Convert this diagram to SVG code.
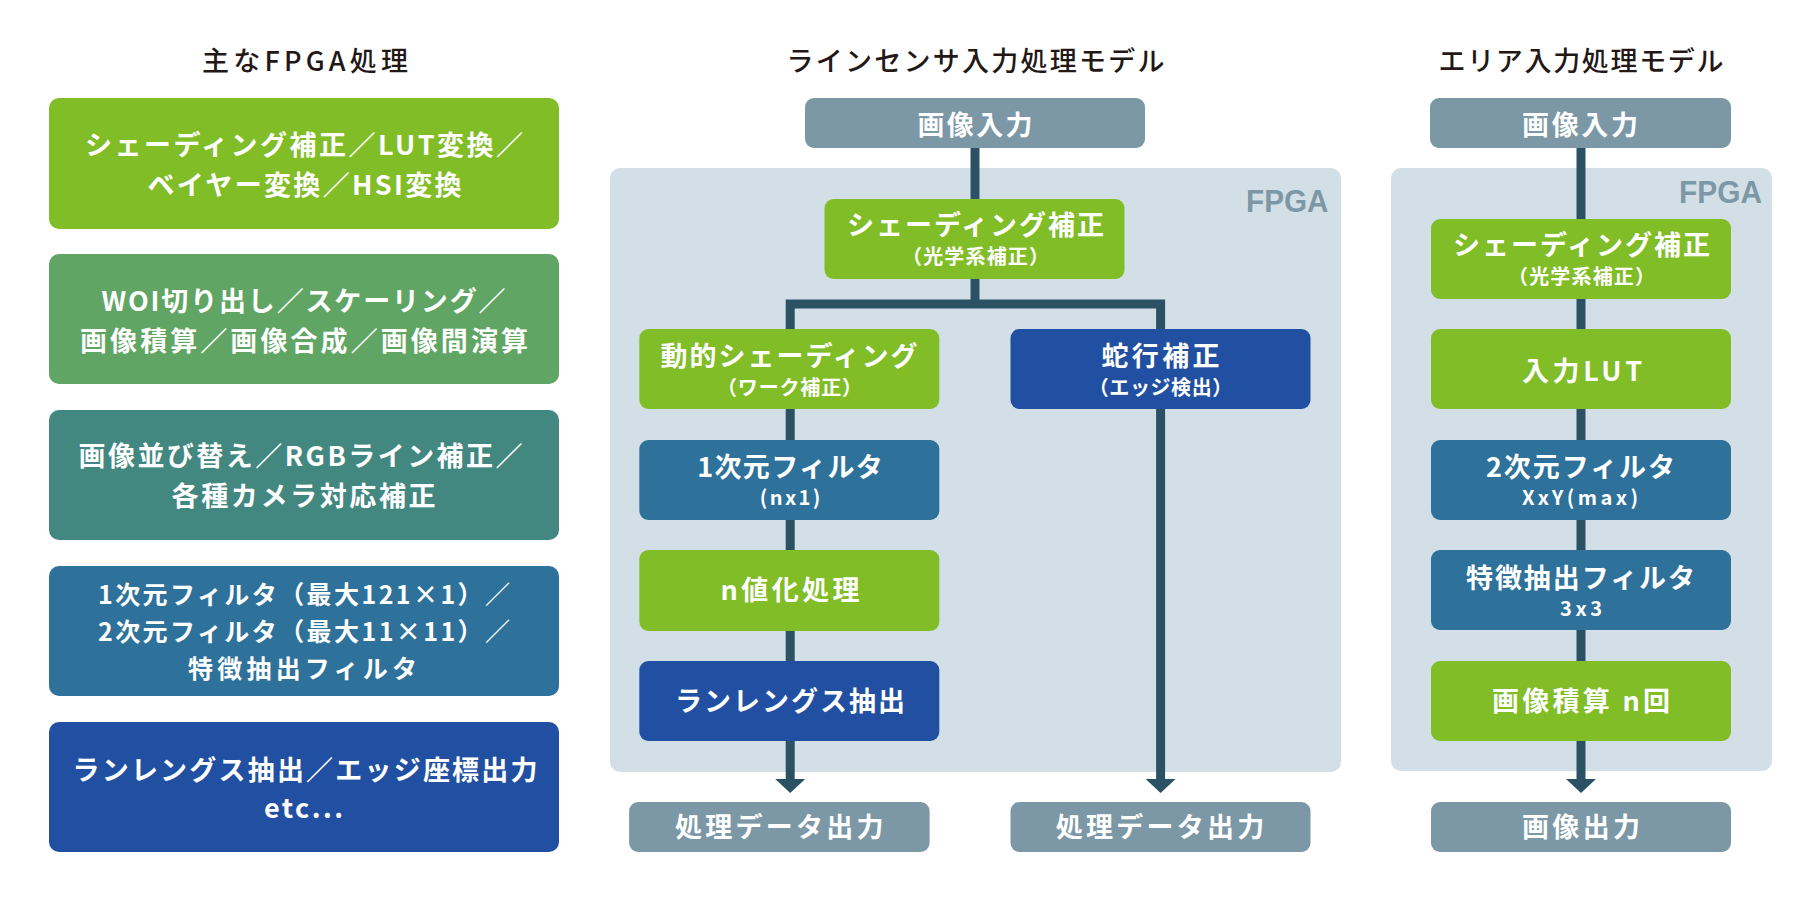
<svg xmlns="http://www.w3.org/2000/svg" width="1820" height="900" viewBox="0 0 1820 900">
<style>
text{font-family:"Noto Sans CJK JP","Noto Sans",sans-serif;}
.title{font-size:27px;font-weight:500;fill:#231815;text-anchor:middle;}
.w{fill:#ffffff;font-weight:bold;text-anchor:middle;}
.l{font-size:27px;}
.k{font-size:25px;}
.s{font-size:20px;}
.lime{fill:#80BD27;}
.green{fill:#60A563;}
.teal{fill:#428780;}
.steel{fill:#2E729B;}
.navy{fill:#2150A2;}
.grey{fill:#7C98A6;}
.panel{fill:#D3DFE6;}
.fpga{font-family:"Liberation Sans",Arial,sans-serif;font-weight:bold;font-size:31px;fill:#7C98A6;text-anchor:end;}
.ln{fill:none;stroke:#2A5264;stroke-width:9;stroke-linejoin:miter;}
.arrow{fill:#2A5264;}
</style>

<!-- titles -->
<text class="title" x="305" y="71" textLength="206" lengthAdjust="spacing">主なFPGA処理</text>
<text class="title" x="975.5" y="71" textLength="378" lengthAdjust="spacing">ラインセンサ入力処理モデル</text>
<text class="title" x="1581" y="71" textLength="285" lengthAdjust="spacing">エリア入力処理モデル</text>

<!-- left column -->
<g id="fpga-1">
<rect class="lime" x="49" y="98" width="510" height="131" rx="10"/>
<text class="w l" x="304" y="155" textLength="438" lengthAdjust="spacing">シェーディング補正／LUT変換／</text>
<text class="w l" x="304.5" y="195" textLength="314" lengthAdjust="spacing">ベイヤー変換／HSI変換</text>
</g>
<g id="fpga-2">
<rect class="green" x="49" y="254" width="510" height="130" rx="10"/>
<text class="w l" x="303.5" y="311" textLength="404" lengthAdjust="spacing">WOI切り出し／スケーリング／</text>
<text class="w l" x="304" y="351" textLength="448" lengthAdjust="spacing">画像積算／画像合成／画像間演算</text>
</g>
<g id="fpga-3">
<rect class="teal" x="49" y="410" width="510" height="130" rx="10"/>
<text class="w l" x="300.5" y="466" textLength="444" lengthAdjust="spacing">画像並び替え／RGBライン補正／</text>
<text class="w l" x="303.5" y="506" textLength="264" lengthAdjust="spacing">各種カメラ対応補正</text>
</g>
<g id="fpga-4">
<rect class="steel" x="49" y="566" width="510" height="130" rx="10"/>
<text class="w k" x="304" y="604" textLength="412" lengthAdjust="spacing">1次元フィルタ（最大121×1）／</text>
<text class="w k" x="304" y="641" textLength="412" lengthAdjust="spacing">2次元フィルタ（最大11×11）／</text>
<text class="w k" x="302.5" y="678" textLength="229" lengthAdjust="spacing">特徴抽出フィルタ</text>
</g>
<g id="fpga-5">
<rect class="navy" x="49" y="722" width="510" height="130" rx="10"/>
<text class="w l" x="305" y="780" textLength="465" lengthAdjust="spacing">ランレングス抽出／エッジ座標出力</text>
<text class="w l" x="303.5" y="818" textLength="79" lengthAdjust="spacing">etc...</text>
</g>

<!-- FPGA panels -->
<g id="panel-line">
<rect class="panel" x="610" y="168" width="731" height="604" rx="10"/>
<text class="fpga" x="1328.5" y="212" textLength="82.5" lengthAdjust="spacingAndGlyphs">FPGA</text>
</g>
<g id="panel-area">
<rect class="panel" x="1391" y="168" width="381" height="603" rx="10"/>
<text class="fpga" x="1762" y="203" textLength="83" lengthAdjust="spacingAndGlyphs">FPGA</text>
</g>

<!-- connectors -->
<g id="connectors">
<path class="ln" d="M975,148 V304"/>
<path class="ln" d="M790.2,780 V304 H1160.6 V780"/>
<polygon class="arrow" points="775.2,779 805.2,779 790.2,793"/>
<polygon class="arrow" points="1145.6,779 1175.6,779 1160.6,793"/>
<path class="ln" d="M1581,148 V780"/>
<polygon class="arrow" points="1566,779 1596,779 1581,793"/>
</g>

<!-- line sensor model nodes -->
<g id="ls-input">
<rect class="grey" x="805" y="98" width="340" height="50" rx="9"/>
<text class="w l" x="975" y="135" textLength="115" lengthAdjust="spacing">画像入力</text>
</g>
<g id="ls-shading">
<rect class="lime" x="824.5" y="199" width="300" height="80" rx="9"/>
<text class="w l" x="975.5" y="235" textLength="257" lengthAdjust="spacing">シェーディング補正</text>
<text class="w s" x="975.5" y="264" textLength="147" lengthAdjust="spacing">（光学系補正）</text>
</g>
<g id="ls-dynamic">
<rect class="lime" x="639.3" y="329" width="300" height="80" rx="9"/>
<text class="w l" x="789" y="366" textLength="257" lengthAdjust="spacing">動的シェーディング</text>
<text class="w s" x="789.5" y="395" textLength="145" lengthAdjust="spacing">（ワーク補正）</text>
</g>
<g id="ls-meander">
<rect class="navy" x="1010.5" y="329" width="300" height="80" rx="9"/>
<text class="w l" x="1160.5" y="366" textLength="118" lengthAdjust="spacing">蛇行補正</text>
<text class="w s" x="1160.5" y="395" textLength="143.5" lengthAdjust="spacing">（エッジ検出）</text>
</g>
<g id="ls-filter1d">
<rect class="steel" x="639.3" y="440" width="300" height="80" rx="9"/>
<text class="w l" x="790" y="477" textLength="185.6" lengthAdjust="spacing">1次元フィルタ</text>
<text class="w s" x="790" y="505" textLength="60.5" lengthAdjust="spacing">(nx1)</text>
</g>
<g id="ls-nvalue">
<rect class="lime" x="639.3" y="550" width="300" height="81" rx="9"/>
<text class="w l" x="790" y="600" textLength="139" lengthAdjust="spacing">n値化処理</text>
</g>
<g id="ls-runlength">
<rect class="navy" x="639.3" y="661" width="300" height="80" rx="9"/>
<text class="w l" x="790" y="711" textLength="230" lengthAdjust="spacing">ランレングス抽出</text>
</g>
<g id="ls-out-left">
<rect class="grey" x="629.1" y="802" width="300.5" height="50" rx="9"/>
<text class="w l" x="779.3" y="837" textLength="208.5" lengthAdjust="spacing">処理データ出力</text>
</g>
<g id="ls-out-right">
<rect class="grey" x="1010.5" y="802" width="300" height="50" rx="9"/>
<text class="w l" x="1160" y="837" textLength="208.5" lengthAdjust="spacing">処理データ出力</text>
</g>

<!-- area model nodes -->
<g id="ar-input">
<rect class="grey" x="1430" y="98" width="301" height="50" rx="9"/>
<text class="w l" x="1580" y="135" textLength="116" lengthAdjust="spacing">画像入力</text>
</g>
<g id="ar-shading">
<rect class="lime" x="1431" y="219" width="300" height="80" rx="9"/>
<text class="w l" x="1581.5" y="255" textLength="257" lengthAdjust="spacing">シェーディング補正</text>
<text class="w s" x="1581.5" y="284" textLength="147" lengthAdjust="spacing">（光学系補正）</text>
</g>
<g id="ar-lut">
<rect class="lime" x="1431" y="329" width="300" height="80" rx="9"/>
<text class="w l" x="1582" y="381" textLength="120" lengthAdjust="spacing">入力LUT</text>
</g>
<g id="ar-filter2d">
<rect class="steel" x="1431" y="440" width="300" height="80" rx="9"/>
<text class="w l" x="1580.5" y="477" textLength="189" lengthAdjust="spacing">2次元フィルタ</text>
<text class="w s" x="1580" y="505" textLength="116" lengthAdjust="spacing">XxY(max)</text>
</g>
<g id="ar-feature">
<rect class="steel" x="1431" y="550" width="300" height="80" rx="9"/>
<text class="w l" x="1580.5" y="588" textLength="229" lengthAdjust="spacing">特徴抽出フィルタ</text>
<text class="w s" x="1581" y="616" textLength="42" lengthAdjust="spacing">3x3</text>
</g>
<g id="ar-integrate">
<rect class="lime" x="1431" y="661" width="300" height="80" rx="9"/>
<text class="w l" x="1581" y="711" textLength="178" lengthAdjust="spacing">画像積算 n回</text>
</g>
<g id="ar-output">
<rect class="grey" x="1431" y="802" width="300" height="50" rx="9"/>
<text class="w l" x="1581" y="837" textLength="118" lengthAdjust="spacing">画像出力</text>
</g>
</svg>
